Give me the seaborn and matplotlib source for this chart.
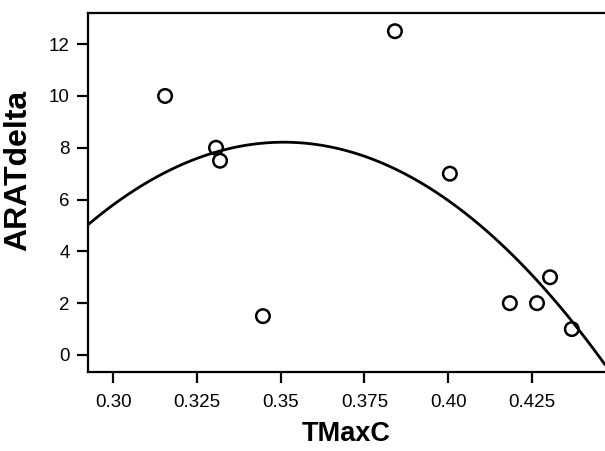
import matplotlib
matplotlib.use("Agg")
import matplotlib.pyplot as plt
import seaborn as sns
import pandas as pd

tmaxc = [0.3155, 0.3307, 0.3319, 0.3447, 0.3841, 0.4005, 0.4184, 0.4265, 0.4304, 0.4369]
aratdelta = [10.0, 8.0, 7.5, 1.5, 12.5, 7.0, 2.0, 2.0, 3.0, 1.0]
x_ticks = [0.30, 0.325, 0.35, 0.375, 0.40, 0.425]
x_tick_labels = ["0.30", "0.325", "0.35", "0.375", "0.40", "0.425"]
y_ticks = [0, 2, 4, 6, 8, 10, 12]

df = pd.DataFrame({"TMaxC": tmaxc, "ARATdelta": aratdelta})

sns.set_theme(style="ticks")
plt.rcParams["font.family"] = ["Liberation Sans", "DejaVu Sans"]
plt.rcParams["text.color"] = "black"
plt.rcParams["axes.labelcolor"] = "black"

fig = plt.figure(figsize=(6.05, 4.51), dpi=100)
ax = fig.add_axes([0.1455, 0.175, 0.8545, 0.796])
ax.set_xlim(0.2925, 0.4468)
ax.set_ylim(-0.66, 13.2)

sns.regplot(data=df, x="TMaxC", y="ARATdelta", order=2, ci=None, truncate=False,
            ax=ax,
            scatter_kws=dict(s=95, facecolors="none", edgecolors="black", linewidths=1.8, alpha=1),
            line_kws=dict(color="black", lw=2.0))

ax.set_xlim(0.2925, 0.4468)
ax.set_ylim(-0.66, 13.2)
ax.set_xticks(x_ticks)
ax.set_xticklabels(x_tick_labels)
ax.set_yticks(y_ticks)
ax.tick_params(axis="both", direction="out", length=8, width=1.6, labelsize=13.5,
               colors="black", labelcolor="black")
ax.tick_params(axis="x", pad=8)
ax.tick_params(axis="y", pad=5)
for s in ["left", "top", "bottom"]:
    ax.spines[s].set_visible(True)
    ax.spines[s].set_linewidth(1.6)
    ax.spines[s].set_color("black")
ax.spines["right"].set_visible(False)
ax.set_xlabel("TMaxC", fontsize=19.5, fontweight="bold", color="black", labelpad=7)
ax.set_ylabel("ARATdelta", fontsize=23, fontweight="bold", color="black")
ax.yaxis.set_label_coords(-0.106, 0.563)

fig.savefig("out.png", dpi=100)
